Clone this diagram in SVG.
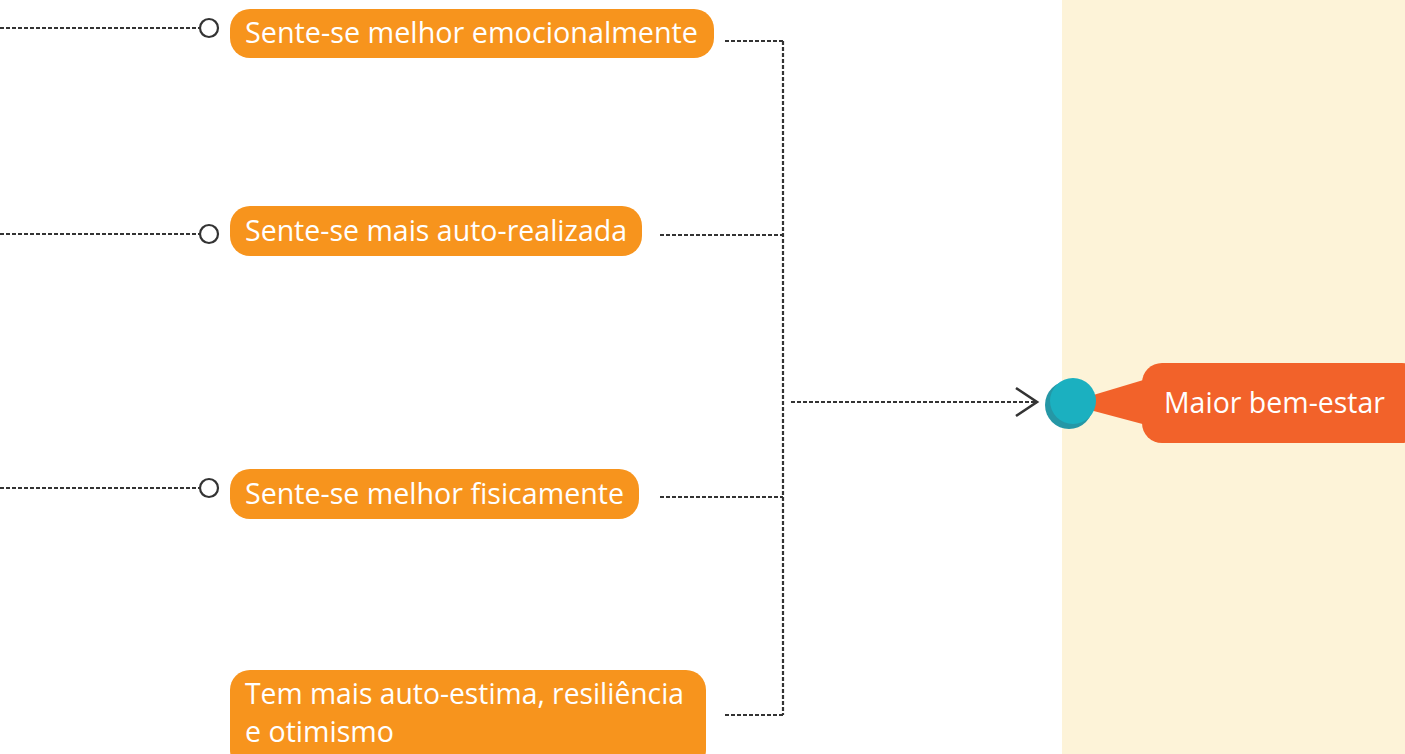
<svg xmlns="http://www.w3.org/2000/svg" width="1405" height="754" viewBox="0 0 1405 754">
<style>
.node{fill:#f7941d}
.lbl{fill:#ffffff;font-family:"Open Sans","Liberation Sans",Arial,sans-serif;font-size:29px}
.dot{fill:none;stroke:#333333;stroke-width:2.2;stroke-dasharray:4 2}
.ring{fill:#ffffff;stroke:#333333;stroke-width:2.2}
</style>
<defs>
<marker id="arr" markerWidth="26" markerHeight="32" refX="23" refY="16" orient="auto" markerUnits="userSpaceOnUse">
<path d="M2,2 L23,16 L2,30" fill="none" stroke="#333333" stroke-width="2.6"/>
</marker>
</defs>
<rect x="1062" y="0" width="343" height="754" fill="#fdf3d8"/>
<g id="connectors">
<line class="dot" x1="0" y1="28" x2="200" y2="28"/>
<line class="dot" x1="0" y1="234" x2="200" y2="234"/>
<line class="dot" x1="0" y1="488" x2="200" y2="488"/>
<line class="dot" x1="725" y1="41" x2="783" y2="41"/>
<line class="dot" x1="660" y1="235" x2="783" y2="235"/>
<line class="dot" x1="660" y1="497" x2="783" y2="497"/>
<line class="dot" x1="725" y1="715" x2="783" y2="715"/>
<line class="dot" x1="783" y1="41" x2="783" y2="715"/>
<line class="dot" x1="791" y1="402" x2="1037" y2="402" marker-end="url(#arr)"/>
</g>
<g id="node1">
<circle class="ring" cx="209" cy="28" r="9"/>
<rect class="node" x="230" y="9" width="484" height="49" rx="20"/>
<text class="lbl" x="245" y="43" textLength="453" lengthAdjust="spacingAndGlyphs">Sente-se melhor emocionalmente</text>
</g>
<g id="node2">
<circle class="ring" cx="209" cy="234" r="9"/>
<rect class="node" x="230" y="206" width="412" height="50" rx="20"/>
<text class="lbl" x="245" y="241" textLength="382" lengthAdjust="spacingAndGlyphs">Sente-se mais auto-realizada</text>
</g>
<g id="node3">
<circle class="ring" cx="209" cy="488" r="9"/>
<rect class="node" x="230" y="469" width="409" height="50" rx="20"/>
<text class="lbl" x="245" y="504" textLength="379" lengthAdjust="spacingAndGlyphs">Sente-se melhor fisicamente</text>
</g>
<g id="node4">
<rect class="node" x="230" y="670" width="476" height="100" rx="20"/>
<text class="lbl" x="245" y="704" textLength="439" lengthAdjust="spacingAndGlyphs">Tem mais auto-estima, resiliência</text>
<text class="lbl" x="245" y="742" textLength="149" lengthAdjust="spacingAndGlyphs">e otimismo</text>
</g>
<g id="node5">
<path d="M1090,396 L1150,378 L1150,426 L1090,410 Z" fill="#f2622a"/>
<rect x="1142" y="363" width="280" height="80" rx="20" fill="#f2622a"/>
<text class="lbl" x="1164" y="413" textLength="221" lengthAdjust="spacingAndGlyphs">Maior bem-estar</text>
<circle cx="1069" cy="405" r="24" fill="#2597a6"/>
<circle cx="1073" cy="401" r="23" fill="#1bb0c0"/>
</g>
</svg>
